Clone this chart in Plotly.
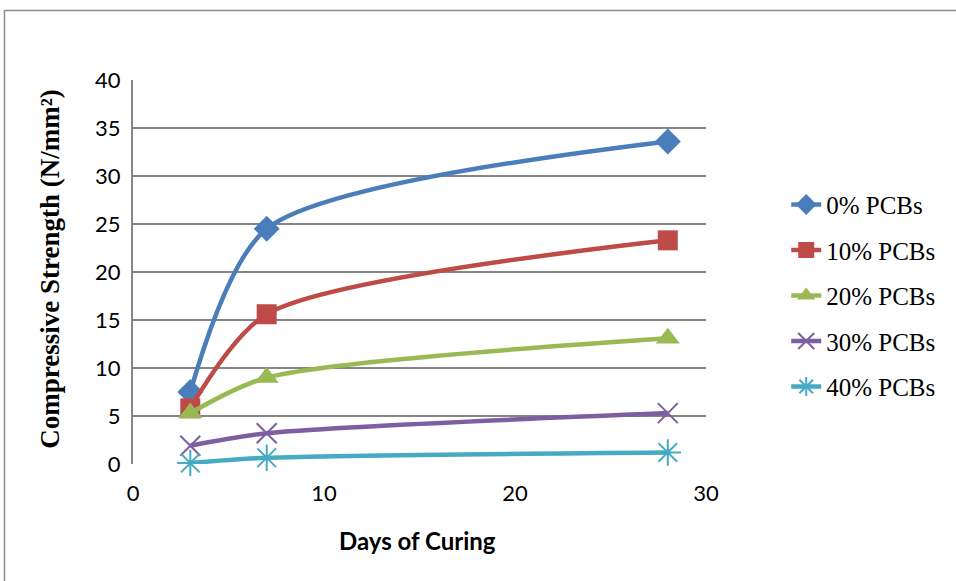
import plotly.graph_objects as go

days = [3, 7, 28]
series_names = ["0% PCBs", "10% PCBs", "20% PCBs", "30% PCBs", "40% PCBs"]
pcb0 = [7.5, 24.5, 33.6]
pcb10 = [5.8, 15.6, 23.3]
pcb20 = [5.3, 9.0, 13.1]
pcb30 = [1.9, 3.2, 5.3]
pcb40 = [0.1, 0.65, 1.2]
x_ticks = [0, 10, 20, 30]
y_ticks = [0, 5, 10, 15, 20, 25, 30, 35, 40]

values = [pcb0, pcb10, pcb20, pcb30, pcb40]
colors = ["#4A7EBB", "#BE4B48", "#98B954", "#7D5FA0", "#46AAC5"]
symbols = ["diamond", "square", "triangle-up", "x-thin-open", "asterisk-open"]
sizes = [20, 20, 21, 20, 22]

fig = go.Figure()
for i, (name, vals) in enumerate(zip(series_names, values)):
    open_sym = symbols[i].endswith("open")
    fig.add_trace(go.Scatter(
        x=days, y=vals, name=name, mode="lines+markers",
        legendgroup=name, cliponaxis=False,
        line=dict(color=colors[i], width=4.5, shape="spline", smoothing=0.75),
        marker=dict(symbol=symbols[i], size=sizes[i], color=colors[i],
                    line=dict(color=colors[i], width=2 if open_sym else 0)),
    ))

fig.update_layout(
    width=956, height=581,
    margin=dict(l=133, r=250, t=80, b=117),
    paper_bgcolor="white", plot_bgcolor="white",
    showlegend=True,
    legend=dict(x=1.14, y=0.735, xanchor="left", yanchor="top",
                font=dict(family="Liberation Serif", size=25, color="black"),
                traceorder="grouped", tracegroupgap=10,
                bgcolor="rgba(0,0,0,0)"),
    xaxis=dict(range=[0, 30], tickvals=x_ticks, showgrid=False, zeroline=False,
               showline=False, ticks="", ticklabelstandoff=14,
               tickfont=dict(family="Lato", size=22, color="black")),
    yaxis=dict(range=[0, 40], tickvals=y_ticks, showgrid=True, gridcolor="#868686",
               gridwidth=1.5, zeroline=False, showline=True, linecolor="#868686",
               linewidth=2, ticks="", ticklabelstandoff=6,
               tickfont=dict(family="Lato", size=22, color="black")),
    annotations=[
        dict(text="<b>Compressive Strength (N/mm²)</b>", textangle=-90,
             xref="paper", yref="paper", x=-0.145, y=0.508,
             xanchor="center", yanchor="middle", showarrow=False,
             font=dict(family="Liberation Serif", size=27, color="black")),
        dict(text="<b>Days of Curing</b>",
             xref="paper", yref="paper", x=0.497, y=-0.198,
             xanchor="center", yanchor="middle", showarrow=False,
             font=dict(family="Lato", size=24, color="black")),
    ],
    shapes=[dict(type="rect", xref="paper", yref="paper",
                 x0=(4.5 - 133) / 573, x1=(970 - 133) / 573,
                 y0=(464 - 600) / 384, y1=(464 - 10.5) / 384,
                 line=dict(color="#8c8c8c", width=1.5), layer="below")],
)

fig.write_html("out.html")
